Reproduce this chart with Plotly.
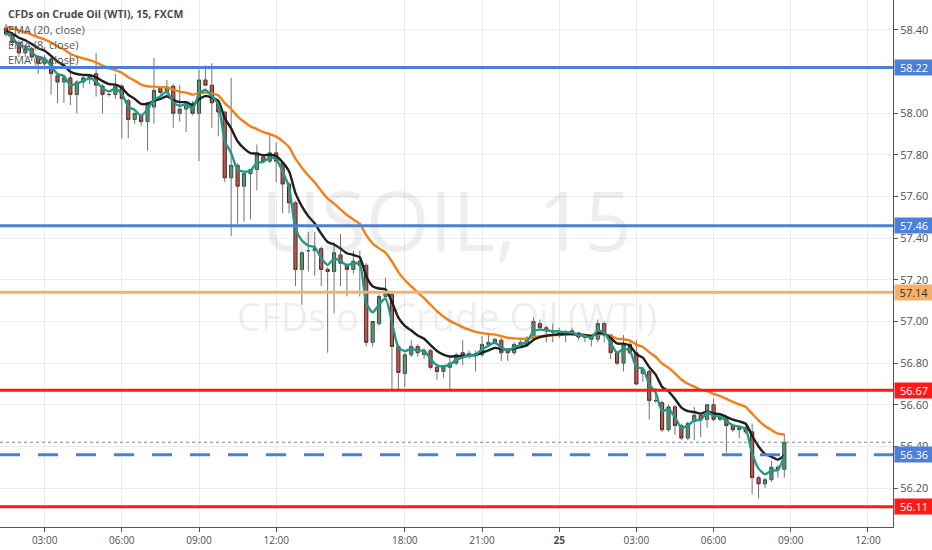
import plotly.graph_objects as go

# ---- data: 15-minute bars, bar index 0 = 03:00 (day 1) ----
bar_index = list(range(-6, 116))
opens = [58.41,58.38,58.34,58.29,58.31,58.27,
         58.24,58.26,58.18,58.15,58.17,58.09,58.15,58.17,58.19,58.13,
         58.09,58.09,58.13,58.06,57.97,57.99,57.96,58.03,58.12,58.10,
         58.13,58.00,58.02,58.04,58.00,58.16,58.135,58.05,58.006,57.69,
         57.75,57.65,57.71,57.73,57.79,57.77,57.81,57.76,57.66,57.57,
         57.25,57.34,57.34,57.35,57.25,57.24,57.32,57.27,57.25,57.29,
         57.27,56.90,56.99,57.12,57.13,56.88,56.75,56.84,56.88,56.84,
         56.86,56.78,56.76,56.78,56.80,56.85,56.84,56.84,56.84,56.89,
         56.90,56.91,56.86,56.85,56.89,56.89,56.92,56.99,56.97,56.95,
         56.95,56.95,56.955,56.945,56.925,56.925,56.915,56.99,56.935,56.85,
         56.80,56.89,56.85,56.75,56.76,56.62,56.61,56.48,56.59,56.50,
         56.44,56.52,56.55,56.53,56.60,56.53,56.54,56.50,56.48,56.49,
         56.47,56.25,56.22,56.24,56.30,56.29]
highs = [58.43,58.39,58.35,58.33,58.32,58.28,
         58.28,58.27,58.19,58.18,58.29,58.16,58.18,58.19,58.29,58.14,
         58.10,58.19,58.14,58.07,58.00,58.00,58.05,58.265,58.13,58.16,
         58.14,58.135,58.05,58.06,58.21,58.23,58.24,58.06,58.01,58.17,
         57.76,57.71,57.73,57.85,57.80,57.90,57.86,57.77,57.67,57.58,
         57.34,57.43,57.43,57.36,57.26,57.38,57.42,57.28,57.34,57.34,
         57.28,57.00,57.13,57.21,57.14,56.89,56.85,56.91,56.89,56.87,
         56.87,56.79,56.78,56.83,56.85,56.91,56.86,56.86,56.93,56.94,
         56.92,56.92,56.87,56.90,56.91,56.93,57.02,57.01,56.98,56.99,
         56.97,56.96,56.97,56.95,56.94,56.93,57.01,57.00,56.94,56.86,
         56.935,56.90,56.91,56.78,56.77,56.68,56.62,56.60,56.60,56.51,
         56.52,56.59,56.56,56.60,56.63,56.55,56.55,56.51,56.49,56.50,
         56.51,56.26,56.25,56.33,56.31,56.46]
lows = [58.37,58.32,58.27,58.27,58.25,58.19,
        58.21,58.09,58.05,58.05,58.04,58.00,58.12,58.14,58.08,58.00,
        58.08,58.07,57.88,57.88,57.95,57.94,57.82,57.95,58.09,58.08,
        57.93,57.96,57.91,57.99,57.77,58.13,57.93,57.89,57.67,57.41,
        57.47,57.48,57.49,57.63,57.76,57.76,57.67,57.52,57.52,57.17,
        57.08,57.24,57.22,57.17,56.85,57.04,57.17,57.12,57.23,57.12,
        56.88,56.88,56.98,57.10,56.67,56.67,56.685,56.83,56.83,56.82,
        56.77,56.72,56.73,56.67,56.79,56.79,56.82,56.76,56.83,56.88,
        56.89,56.81,56.81,56.84,56.88,56.88,56.91,56.96,56.90,56.90,
        56.92,56.90,56.93,56.91,56.90,56.88,56.90,56.90,56.82,56.79,
        56.76,56.84,56.695,56.71,56.53,56.61,56.47,56.47,56.455,56.43,
        56.43,56.43,56.445,56.49,56.52,56.52,56.37,56.47,56.44,56.46,
        56.17,56.15,56.20,56.23,56.25,56.25]
closes = [58.38,58.34,58.29,58.31,58.27,58.24,
          58.26,58.19,58.15,58.17,58.09,58.15,58.17,58.18,58.135,58.09,
          58.09,58.13,58.07,57.97,58.00,57.96,58.05,58.11,58.10,58.125,
          58.00,58.02,58.05,58.00,58.16,58.135,58.05,58.006,57.69,57.75,
          57.65,57.71,57.73,57.80,57.77,57.81,57.77,57.66,57.57,57.25,
          57.33,57.34,57.35,57.25,57.24,57.33,57.28,57.25,57.29,57.27,
          56.90,57.00,57.12,57.14,56.88,56.755,56.84,56.88,56.85,56.86,
          56.78,56.76,56.78,56.80,56.84,56.84,56.845,56.845,56.89,56.90,
          56.915,56.85,56.85,56.89,56.90,56.92,57.00,56.97,56.955,56.95,
          56.95,56.945,56.945,56.925,56.925,56.915,56.99,56.935,56.85,56.80,
          56.89,56.85,56.70,56.77,56.62,56.62,56.48,56.59,56.50,56.44,
          56.51,56.55,56.53,56.60,56.53,56.54,56.50,56.48,56.49,56.47,
          56.25,56.22,56.24,56.30,56.29,56.42]

# EMA settings (period, starting level at the left edge, colour)
ema_specs = [(20, 58.42, "#f57f17"), (8, 58.40, "#1f1f1f"), (3, 58.39, "#21998a")]
ema_labels = ["EMA (20, close)", "EMA (8, close)", "EMA (3, close)"]

# horizontal levels
level_prices = [58.22, 57.46, 57.14, 56.67, 56.36, 56.11]
level_colors = ["#4a80d8", "#4a80d8", "#f5b06c", "#ff1a1a", "#4a80d8", "#ff1a1a"]
level_text_colors = ["white", "white", "#333333", "white", "white", "white"]
level_dash = ["solid", "solid", "solid", "solid", "20px,18px", "solid"]
last_price = 56.42

# price ticks shown on the axis (58.20 is hidden behind the 58.22 tag)
price_ticks = [56.20, 56.40, 56.60, 56.80, 57.00, 57.20, 57.40, 57.60, 57.80, 58.00, 58.40]
tick_index = [0, 12, 24, 36, 56, 68, 80, 92, 104, 116, 128]
tick_labels = ["03:00", "06:00", "09:00", "12:00", "18:00", "21:00", "<b>25</b>",
               "03:00", "06:00", "09:00", "12:00"]

# ---- figure ----
fig = go.Figure()

# wicks
wx, wy = [], []
for i, o, h, l, c in zip(bar_index, opens, highs, lows, closes):
    wx += [i, i, None]
    wy += [min(l, o, c), max(h, o, c), None]
fig.add_trace(go.Scatter(x=wx, y=wy, mode="lines",
                         line=dict(color="#737375", width=1),
                         hoverinfo="skip", showlegend=False))

# bodies
fig.add_trace(go.Candlestick(
    x=bar_index, open=opens, close=closes,
    high=[max(o, c) for o, c in zip(opens, closes)],
    low=[min(o, c) for o, c in zip(opens, closes)],
    increasing=dict(fillcolor="#6ba583", line=dict(color="#225437", width=1)),
    decreasing=dict(fillcolor="#d75442", line=dict(color="#5b1a13", width=1)),
    showlegend=False))

# EMAs
def ema(values, n, seed):
    a = 2.0 / (n + 1)
    out, prev = [], seed
    for v in values:
        prev = a * v + (1 - a) * prev
        out.append(prev)
    return out

for n, seed, col in ema_specs:
    fig.add_trace(go.Scatter(x=bar_index, y=ema(closes, n, seed), mode="lines",
                             line=dict(color=col, width=2.4, shape="spline", smoothing=0.6),
                             hoverinfo="skip", showlegend=False))

shapes = []
annotations = []
# last price dotted line
shapes.append(dict(type="line", xref="paper", x0=0, x1=1, yref="y",
                   y0=last_price, y1=last_price,
                   line=dict(color="#5c9e80", width=1, dash="dot")))
for p, col, tcol, d in zip(level_prices, level_colors, level_text_colors, level_dash):
    shapes.append(dict(type="line", xref="paper", x0=0, x1=1, yref="y", y0=p, y1=p,
                       line=dict(color=col, width=3, dash=d)))
    annotations.append(dict(xref="paper", x=1, xanchor="left", yref="y", y=p,
                            yanchor="middle", text="%.2f" % p, showarrow=False,
                            bgcolor=col, width=36, height=13, xshift=1,
                            font=dict(family="Open Sans", size=11, color=tcol)))

# watermark
annotations.append(dict(xref="paper", yref="paper", x=0.5, y=0.585, text="USOIL, 15",
                        showarrow=False, xanchor="center", yanchor="middle",
                        font=dict(family="Open Sans", size=82, color="rgba(120,123,134,0.13)")))
annotations.append(dict(xref="paper", yref="paper", x=0.5, y=0.40,
                        text="CFDs on Crude Oil (WTI)", showarrow=False,
                        xanchor="center", yanchor="middle",
                        font=dict(family="Open Sans", size=38, color="rgba(120,123,134,0.13)")))

# legend texts
annotations.append(dict(xref="paper", yref="paper", x=0.0, y=1.0, xshift=6, yshift=-5,
                        text="<b>CFDs on Crude Oil (WTI), 15, FXCM</b>", showarrow=False,
                        xanchor="left", yanchor="top",
                        font=dict(family="Open Sans", size=10.5, color="#4a4a4a")))
for k, lbl in enumerate(ema_labels):
    annotations.append(dict(xref="paper", yref="paper", x=0.0, y=1.0, xshift=6,
                            yshift=-20 - 15 * k, text=lbl, showarrow=False,
                            xanchor="left", yanchor="top",
                            font=dict(family="Open Sans", size=11, color="#555555")))

fig.update_layout(
    width=932, height=550,
    margin=dict(l=0, r=39, t=0, b=23),
    paper_bgcolor="white", plot_bgcolor="white",
    shapes=shapes, annotations=annotations,
    showlegend=False,
    xaxis=dict(range=[-6.94, 131.9], tickvals=tick_index, ticktext=tick_labels,
               showgrid=True, gridcolor="#ececec", gridwidth=1,
               zeroline=False, showline=True, linecolor="#555555", linewidth=1,
               ticks="outside", ticklen=4, tickcolor="#555555",
               tickfont=dict(family="Open Sans", size=10, color="#4f4f4f"),
               rangeslider=dict(visible=False), fixedrange=True),
    yaxis=dict(side="right", range=[56.013, 58.544], tickvals=price_ticks,
               tickformat=".2f", showgrid=True, gridcolor="#ececec",
               zeroline=False, showline=True, linecolor="#555555", linewidth=1,
               ticks="outside", ticklen=4, tickcolor="#555555",
               tickfont=dict(family="Open Sans", size=11, color="#4f4f4f")),
)

fig.write_html("out.html", config={"displayModeBar": False},
               post_script="document.body.style.margin='0';document.body.style.overflow='hidden';")
